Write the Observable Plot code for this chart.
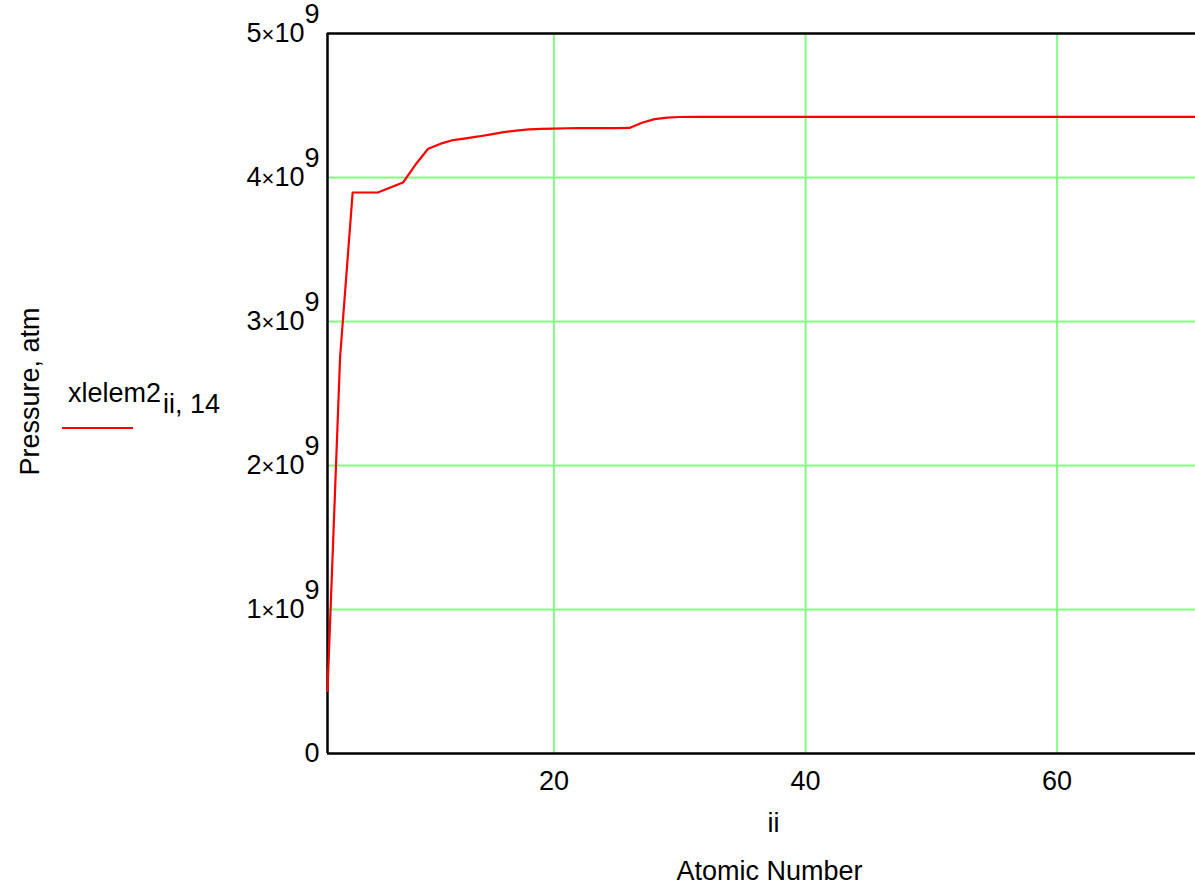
<!DOCTYPE html>
<html>
<head>
<meta charset="utf-8">
<script src="https://cdn.jsdelivr.net/npm/d3@7"></script>
<script src="https://cdn.jsdelivr.net/npm/@observablehq/plot@0.6"></script>
<style>
  html, body { margin: 0; padding: 0; background: #fff; }
  #chart { position: relative; width: 1195px; height: 886px; overflow: hidden; }
</style>
</head>
<body>
<div id="chart"></div>
<script>
// ---- data ----
const atomicNumber = [
  2, 3, 4, 5, 6, 7, 8, 9, 10, 11, 12, 13, 14, 15, 16, 17, 18, 19, 20, 21,
  22, 23, 24, 25, 26, 27, 28, 29, 30, 31, 32, 33, 34, 35, 36, 37, 38, 39, 40, 41,
  42, 43, 44, 45, 46, 47, 48, 49, 50, 51, 52, 53, 54, 55, 56, 57, 58, 59, 60, 61,
  62, 63, 64, 65, 66, 67, 68, 69, 70, 71
];
const pressure = [
  4.35e8, 2.75e9, 3.896e9, 3.896e9, 3.896e9, 3.93e9, 3.965e9, 4.09e9, 4.20e9, 4.235e9,
  4.26e9, 4.272e9, 4.285e9, 4.30e9, 4.315e9, 4.326e9, 4.334e9, 4.338e9, 4.340e9, 4.342e9,
  4.343e9, 4.343e9, 4.343e9, 4.343e9, 4.344e9, 4.38e9, 4.405e9, 4.416e9, 4.42e9, 4.421e9,
  4.421e9, 4.421e9, 4.421e9, 4.421e9, 4.421e9, 4.421e9, 4.421e9, 4.421e9, 4.421e9, 4.421e9,
  4.421e9, 4.421e9, 4.421e9, 4.421e9, 4.421e9, 4.421e9, 4.421e9, 4.421e9, 4.421e9, 4.421e9,
  4.421e9, 4.421e9, 4.421e9, 4.421e9, 4.421e9, 4.421e9, 4.421e9, 4.421e9, 4.421e9, 4.421e9,
  4.421e9, 4.421e9, 4.421e9, 4.421e9, 4.421e9, 4.421e9, 4.421e9, 4.421e9, 4.421e9, 4.421e9
];
const xDomain = [2, 71];
const yDomain = [0, 5e9];
const xTicks = [20, 40, 60];
const yTicks = [0, 1e9, 2e9, 3e9, 4e9, 5e9];
const yGrid = [1e9, 2e9, 3e9, 4e9];
const xLabel1 = "ii";
const xLabel2 = "Atomic Number";
const yLabel = "Pressure, atm";
const legendName = "xlelem2";
const legendSub = "ii, 14";

const rows = atomicNumber.map((ii, i) => ({ii, p: pressure[i]}));

const gridColor = "#80ff80";
const lineColor = "#ff0000";
const font = "'Liberation Sans', Arial, sans-serif";

const chart = Plot.plot({
  width: 1195,
  height: 886,
  marginLeft: 327,
  marginRight: 0,
  marginTop: 33,
  marginBottom: 133,
  style: {fontFamily: font, fontSize: "27px", color: "#000", background: "#fff", overflow: "visible"},
  x: {domain: xDomain, label: null},
  y: {domain: yDomain, label: null},
  marks: [
    Plot.gridX(xTicks, {stroke: gridColor, strokeOpacity: 1, strokeWidth: 2}),
    Plot.gridY(yGrid, {stroke: gridColor, strokeOpacity: 1, strokeWidth: 2}),
    Plot.ruleX([xDomain[0]], {stroke: "#000", strokeWidth: 2.5}),
    Plot.ruleY(yDomain, {stroke: "#000", strokeWidth: 2.5}),
    Plot.line(rows, {x: "ii", y: "p", stroke: lineColor, strokeWidth: 2.2}),
    Plot.axisX({ticks: xTicks, tickSize: 0, tickPadding: 17, label: null, fontSize: 27}),
    Plot.axisY({
      ticks: yTicks, tickSize: 0, tickPadding: 8, label: null, fontSize: 27,
      tickFormat: d => d === 0 ? "0" : `${d / 1e9}×10^9`
    }),
    Plot.text([xLabel1], {frameAnchor: "bottom", text: d => d, lineAnchor: "middle", textAnchor: "middle", dx: 12, dy: 70, fontSize: 27}),
    Plot.text([xLabel2], {frameAnchor: "bottom", text: d => d, lineAnchor: "middle", textAnchor: "middle", dx: 8, dy: 118, fontSize: 27}),
    Plot.text([yLabel], {frameAnchor: "left", text: d => d, rotate: -90, lineAnchor: "middle", textAnchor: "middle", dx: -297, dy: -2, fontSize: 27})
  ]
});

// superscript exponents in y tick labels
chart.querySelectorAll('g[aria-label="y-axis tick label"] text').forEach(t => {
  const s = t.textContent;
  if (!s.includes("^")) return;
  const [mant, exp] = s.split("^");
  const [coef, base] = mant.split("×");
  t.textContent = "";
  const ns = "http://www.w3.org/2000/svg";
  const a = document.createElementNS(ns, "tspan"); a.textContent = coef; t.appendChild(a);
  const b = document.createElementNS(ns, "tspan"); b.textContent = "×"; b.setAttribute("font-size", "22"); t.appendChild(b);
  const c = document.createElementNS(ns, "tspan"); c.textContent = base; t.appendChild(c);
  const e = document.createElementNS(ns, "tspan"); e.textContent = exp; e.setAttribute("dy", "-0.72em"); t.appendChild(e);
});

// legend (left side, as in the reference)
const svg = d3.select(chart);
const lg = svg.append("g").attr("font-family", font).attr("font-size", 27).attr("text-anchor", "start");
const lt = lg.append("text").attr("x", 68).attr("y", 402).attr("fill", "#000");
lt.append("tspan").text(legendName);
lt.append("tspan").attr("dy", 11).attr("dx", 2).text(legendSub);
lg.append("line").attr("x1", 62).attr("x2", 133).attr("y1", 428).attr("y2", 428)
  .attr("stroke", lineColor).attr("stroke-width", 2);

document.getElementById("chart").appendChild(chart);
</script>
</body>
</html>
